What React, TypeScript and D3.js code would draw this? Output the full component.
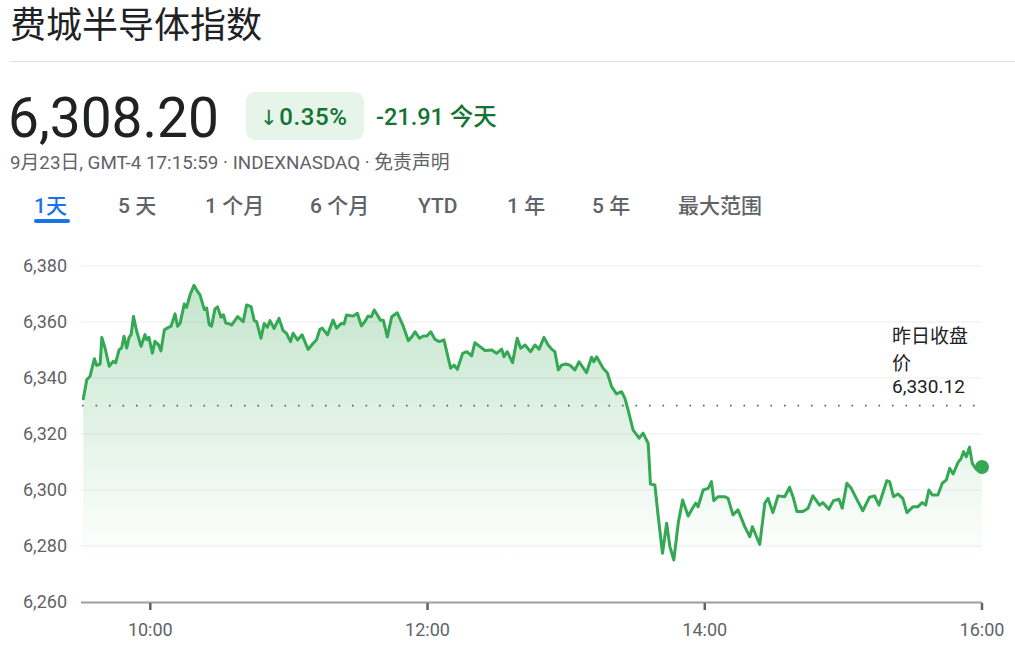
import React from "react";
import * as d3 from "d3";

// ---- data (minutes since 9:30, index value) ----
const MINUTES = [
  1, 2.5, 3.9, 5.8, 6.8, 8.3, 9.0, 10.4, 12.2, 14.0, 15.0, 16.5, 17.6, 18.6, 19.8, 20.8, 21.7, 22.7, 24.1, 26.0,
  27.7, 28.4, 29.4, 30.9, 32.0, 33.5, 34.6, 36.1, 37.5, 39.0, 40.7, 41.8, 42.9, 44.7, 45.7, 47.2, 48.9, 50.0, 51.5, 53.4,
  54.4, 55.5, 56.5, 58.0, 59.1, 60.6, 61.6, 62.7, 64.5, 65.2, 67.8, 70.2, 71.7, 73.6, 75.0, 76.0, 77.9, 79.3, 80.7, 81.8,
  83.6, 85.7, 87.5, 88.9, 90.7, 91.8, 93.7, 95.7, 98.3, 100.5, 101.9, 103.4, 104.4, 106.7, 109.1, 110.6, 112.7, 113.9, 114.9, 117.8,
  119.6, 121.4, 122.8, 124.3, 125.7, 126.9, 128.3, 129.5, 130.9, 132.6, 134.5, 136.9, 139.3, 141.7, 143.2, 144.6, 146.5, 148.2, 149.7, 151.4,
  153.2, 155.1, 157.1, 160.0, 161.5, 162.9, 165.2, 167.0, 169.1, 170.5, 172.7, 174.9, 177.8, 179.9, 182.1, 183.1, 184.5, 186.8, 188.8, 190.3,
  192.2, 194.6, 196.5, 198.3, 200.4, 202.2, 203.7, 205.1, 206.6, 208.0, 209.9, 211.6, 213.8, 215.6, 218.8, 221.0, 222.0, 223.2, 226.0, 227.8,
  229.7, 231.8, 234.0, 235.4, 236.8, 239.0, 241.6, 243.3, 245.5, 246.5, 248.4, 249.7, 251.7, 253.5, 254.9, 256.6, 258.5, 260.4, 262.8, 264.7,
  266.1, 267.1, 269.3, 271.5, 272.9, 273.9, 275.7, 278.6, 280.1, 282.2, 284.4, 287.3, 289.5, 290.6, 292.4, 293.8, 296.0, 297.4, 299.5, 301.7,
  304.6, 306.7, 308.2, 309.9, 312.5, 314.7, 316.8, 319.7, 321.1, 323.7, 325.7, 328.1, 329.5, 331.5, 333.4, 335.6, 338.4, 341.3, 343.5, 345.4,
  346.8, 348.8, 350.0, 351.7, 353.6, 355.7, 357.5, 360.1, 362.2, 364.1, 365.6, 367.0, 368.5, 370.9, 372.8, 374.6, 376.0, 377.5, 379.6, 381.0,
  382.0, 383.2, 384.6, 385.8, 387.5, 390.0,
];
const VALUES = [
  6332.6, 6339.4, 6340.6, 6346.9, 6344.5, 6345.0, 6354.5, 6350.7, 6344.2, 6346.0, 6345.4, 6350.1, 6350.7, 6354.9, 6350.7, 6354.5, 6355.5, 6362.0, 6356.7, 6351.3,
  6355.5, 6353.7, 6354.5, 6348.9, 6353.1, 6351.9, 6349.7, 6357.2, 6357.9, 6358.5, 6362.9, 6358.5, 6359.6, 6366.4, 6365.2, 6369.7, 6373.1, 6371.5, 6369.7, 6364.4,
  6365.0, 6359.0, 6358.5, 6364.7, 6365.4, 6361.7, 6362.6, 6359.6, 6359.3, 6358.9, 6361.9, 6360.1, 6366.1, 6365.5, 6360.5, 6360.1, 6354.2, 6359.5, 6358.1, 6360.5,
  6357.7, 6361.3, 6356.9, 6356.0, 6353.0, 6356.0, 6353.6, 6355.4, 6350.2, 6352.4, 6353.6, 6357.4, 6357.8, 6355.4, 6360.7, 6357.8, 6359.5, 6359.3, 6362.5, 6362.1,
  6363.1, 6358.6, 6360.1, 6362.1, 6361.9, 6364.3, 6362.5, 6360.7, 6360.5, 6354.7, 6361.9, 6363.3, 6358.9, 6353.3, 6354.7, 6356.5, 6354.2, 6355.0, 6355.0, 6356.5,
  6353.8, 6353.0, 6353.6, 6343.5, 6344.6, 6343.1, 6348.8, 6349.4, 6347.9, 6352.6, 6351.2, 6349.8, 6350.0, 6348.8, 6350.3, 6347.6, 6349.4, 6345.5, 6354.2, 6350.6,
  6351.8, 6349.4, 6351.8, 6350.3, 6354.5, 6351.8, 6350.3, 6349.4, 6342.9, 6344.6, 6345.0, 6344.6, 6342.9, 6345.8, 6341.9, 6347.4, 6345.8, 6347.6, 6343.5, 6341.9,
  6336.9, 6334.3, 6335.1, 6332.8, 6328.6, 6321.4, 6318.5, 6320.3, 6316.7, 6302.1, 6301.8, 6291.7, 6277.4, 6288.1, 6279.8, 6275.0, 6288.1, 6296.4, 6290.7, 6293.5,
  6295.3, 6294.0, 6300.0, 6300.6, 6303.0, 6296.2, 6297.6, 6297.6, 6297.0, 6291.1, 6292.9, 6286.9, 6283.3, 6286.9, 6283.3, 6280.6, 6295.3, 6297.0, 6291.9, 6297.9,
  6297.6, 6301.0, 6297.6, 6292.3, 6292.3, 6293.5, 6297.9, 6294.6, 6295.5, 6293.1, 6296.2, 6296.7, 6293.5, 6302.4, 6300.6, 6297.0, 6292.6, 6297.4, 6297.9, 6294.6,
  6298.2, 6303.3, 6303.0, 6297.6, 6298.6, 6297.0, 6291.9, 6294.0, 6294.0, 6295.5, 6294.6, 6300.0, 6298.2, 6298.2, 6302.4, 6303.6, 6307.8, 6305.7, 6309.8, 6311.3,
  6313.7, 6311.9, 6315.3, 6309.5, 6307.4, 6308.2,
];
const PREV_CLOSE = 6330.12;
const Y_TICKS = [6260, 6280, 6300, 6320, 6340, 6360, 6380];
const X_TICKS = [30, 150, 270, 390];
const X_LABELS = ["10:00", "12:00", "14:00", "16:00"];
const TABS = ["1天", "5 天", "1 个月", "6 个月", "YTD", "1 年", "5 年", "最大范围"];
const TAB_X = [34, 118, 205, 310, 418, 507, 592, 678];

const TITLE = "费城半导体指数";
const PRICE = "6,308.20";
const PCT = "0.35%";
const CHANGE = "-21.91 今天";
const SUBTITLE = "9月23日, GMT-4 17:15:59 · INDEXNASDAQ · 免责声明";

const FONT = "Roboto, 'Noto Sans CJK SC', sans-serif";
const GREEN = "#34a853";
const DARK_GREEN = "#137333";

export default function App() {
  const x = d3.scaleLinear().domain([0, 390]).range([81, 982]);
  const y = d3.scaleLinear().domain([6260, 6380]).range([602, 266]);
  const pts = MINUTES.map((m, i) => [m, VALUES[i]] as [number, number]);
  const line = d3.line<[number, number]>().x((d) => x(d[0])).y((d) => y(d[1]));
  const area = d3
    .area<[number, number]>()
    .x((d) => x(d[0]))
    .y0(y(6260))
    .y1((d) => y(d[1]));
  const last = pts[pts.length - 1];

  return (
    <svg
      width={1015}
      height={645}
      style={{ position: "absolute", left: 0, top: 0, fontFamily: FONT }}
    >
      <defs>
        <linearGradient id="fillg" gradientUnits="userSpaceOnUse" x1="0" y1={y(6375)} x2="0" y2={y(6275)}>
          <stop offset="0" stopColor={GREEN} stopOpacity={0.3} />
          <stop offset="1" stopColor={GREEN} stopOpacity={0} />
        </linearGradient>
      </defs>
      <rect x={0} y={0} width={1015} height={645} fill="#fff" />
      {/* header */}
      <text x={10} y={38} fontSize={36} fill="#202124">{TITLE}</text>
      <line x1={10} x2={1015} y1={61.5} y2={61.5} stroke="#e3e3e3" strokeWidth={1} />
      <text x={8} y={137} fontSize={55} fill="#202124">{PRICE}</text>
      <rect x={246} y={92} width={118} height={48} rx={9} fill="#e6f4ea" />
      <text x={260} y={124.5} fontSize={24} fontWeight={500} letterSpacing={0.6} fill={DARK_GREEN}>
        <tspan fontFamily="'DejaVu Sans'" fontSize={21}>↓</tspan>
        <tspan dx={1}>{PCT}</tspan>
      </text>
      <text x={376} y={124.5} fontSize={23.5} fontWeight={500} fill={DARK_GREEN}>{CHANGE}</text>
      <text x={10} y={169} fontSize={18.8} fill="#5f6368">{SUBTITLE}</text>
      {TABS.map((t, i) => (
        <text key={t} x={TAB_X[i]} y={213} fontSize={21} fontWeight={500} fill={i === 0 ? "#1a73e8" : "#5f6368"}>
          {t}
        </text>
      ))}
      <rect x={34} y={219} width={36} height={4} rx={2} fill="#1a73e8" />

      {/* grid */}
      {Y_TICKS.slice(1).map((v) => (
        <line key={v} x1={81} x2={982} y1={y(v)} y2={y(v)} stroke="#ececec" strokeWidth={1} />
      ))}
      {Y_TICKS.map((v) => (
        <text key={"l" + v} x={67} y={y(v)} dy="0.35em" textAnchor="end" fontSize={18} fill="#5f6368">
          {d3.format(",")(v)}
        </text>
      ))}
      {/* area and line */}
      <path d={area(pts) || ""} fill="url(#fillg)" />
      <line
        x1={82}
        x2={982}
        y1={y(PREV_CLOSE)}
        y2={y(PREV_CLOSE)}
        stroke="#5f6368"
        strokeWidth={1.6}
        strokeDasharray="1.6 11.9"
      />
      <path d={line(pts) || ""} fill="none" stroke={GREEN} strokeWidth={3} strokeLinejoin="round" strokeLinecap="round" />
      <circle cx={x(last[0])} cy={y(last[1])} r={7} fill={GREEN} />

      {/* x axis */}
      <line x1={81} x2={982} y1={602.5} y2={602.5} stroke="#9aa0a6" strokeWidth={2} />
      {X_TICKS.map((t, i) => (
        <g key={t}>
          <line x1={x(t)} x2={x(t)} y1={603} y2={610} stroke="#5f6368" strokeWidth={2.5} />
          <text x={x(t)} y={636} textAnchor="middle" fontSize={18} fill="#5f6368">
            {X_LABELS[i]}
          </text>
        </g>
      ))}

      {/* previous close annotation */}
      <text x={892} y={343} fontSize={19} fill="#202124">昨日收盘</text>
      <text x={892} y={370} fontSize={19} fill="#202124">价</text>
      <text x={892} y={393} fontSize={19} fill="#202124">{d3.format(",.2f")(PREV_CLOSE)}</text>
    </svg>
  );
}
